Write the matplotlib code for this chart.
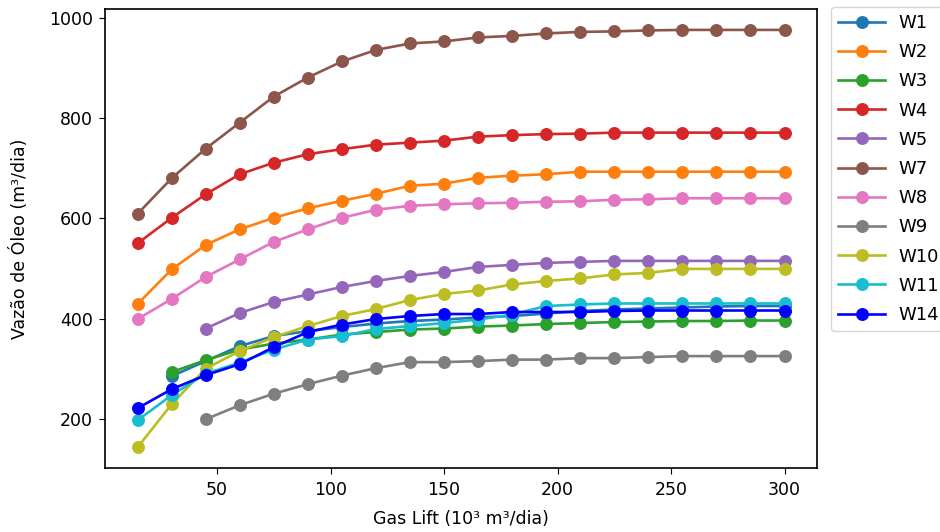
import matplotlib
matplotlib.use("Agg")
import matplotlib.pyplot as plt

# Gas-lift injection rates (10^3 m3/day)
gas_lift = [15, 30, 45, 60, 75, 90, 105, 120, 135, 150,
            165, 180, 195, 210, 225, 240, 255, 270, 285, 300]

# Oil rate per well (m3/day); some wells start at higher injection rates
w1 = [285, 315, 345, 365, 375, 383, 390, 395, 398, 402,
      405, 410, 415, 418, 420, 422, 424, 425, 425]
w2 = [429, 498, 547, 578, 601, 620, 635, 649, 665, 669,
      681, 685, 688, 693, 693, 693, 693, 693, 693, 693]
w3 = [293, 317, 338, 350, 358, 368, 373, 378, 380, 384,
      386, 389, 391, 393, 394, 395, 395, 396, 396]
w4 = [550, 601, 648, 688, 711, 728, 738, 747, 751, 755,
      763, 766, 768, 769, 771, 771, 771, 771, 771, 771]
w5 = [380, 411, 433, 448, 463, 475, 485, 493, 503, 507,
      511, 513, 515, 515, 515, 515, 515, 515]
w7 = [609, 680, 739, 791, 843, 881, 913, 936, 949, 953,
      961, 964, 969, 972, 973, 975, 976, 976, 976, 976]
w8 = [399, 439, 483, 518, 553, 578, 601, 617, 625, 628,
      630, 631, 633, 634, 637, 638, 640, 640, 640, 640]
w9 = [199, 227, 250, 269, 286, 301, 313, 313, 315, 318,
      318, 321, 321, 323, 325, 325, 325, 325]
w10 = [143, 229, 300, 335, 363, 385, 405, 419, 437, 449,
       456, 468, 475, 480, 488, 491, 499, 499, 499, 499]
w11 = [197, 247, 290, 312, 338, 358, 365, 379, 385, 391,
       398, 408, 425, 428, 430, 430, 430, 430, 430, 430]
w14 = [221, 259, 287, 309, 343, 373, 388, 399, 405, 409,
       409, 413, 413, 413, 415, 416, 416, 416, 416, 416]

wells = ["W1", "W2", "W3", "W4", "W5", "W7", "W8", "W9", "W10", "W11", "W14"]
rates = [w1, w2, w3, w4, w5, w7, w8, w9, w10, w11, w14]
colors = ["tab:blue", "tab:orange", "tab:green", "tab:red", "tab:purple",
          "tab:brown", "tab:pink", "tab:gray", "tab:olive", "tab:cyan", "blue"]

plt.rcParams["font.family"] = ["DejaVu Sans"]
plt.rcParams["font.size"] = 12.5
plt.rcParams["xtick.major.size"] = 4.5
plt.rcParams["ytick.major.size"] = 4.5
plt.rcParams["xtick.major.pad"] = 4.5
plt.rcParams["ytick.major.pad"] = 4.5

fig = plt.figure(figsize=(9.4, 5.32), dpi=100)
ax = fig.add_axes([0.112, 0.120, 0.757, 0.863])

for name, y, c in zip(wells, rates, colors):
    x = gas_lift[len(gas_lift) - len(y):]
    ax.plot(x, y, "-o", color=c, label=name, linewidth=1.9, markersize=8.3)

ax.set_yticks([200, 400, 600, 800, 1000])
ax.set_xticks([50, 100, 150, 200, 250, 300])
ax.set_xlabel("Gas Lift (10³ m³/dia)", labelpad=8)
ax.set_ylabel("Vazão de Óleo (m³/dia)", labelpad=14)
for s in ax.spines.values():
    s.set_linewidth(1.2)

ax.legend(loc="upper left", bbox_to_anchor=(1.02, 1.005), borderaxespad=0,
          fontsize=13, labelspacing=0.62, handlelength=2.6,
          handletextpad=0.75)

fig.savefig("out.png", dpi=100)
